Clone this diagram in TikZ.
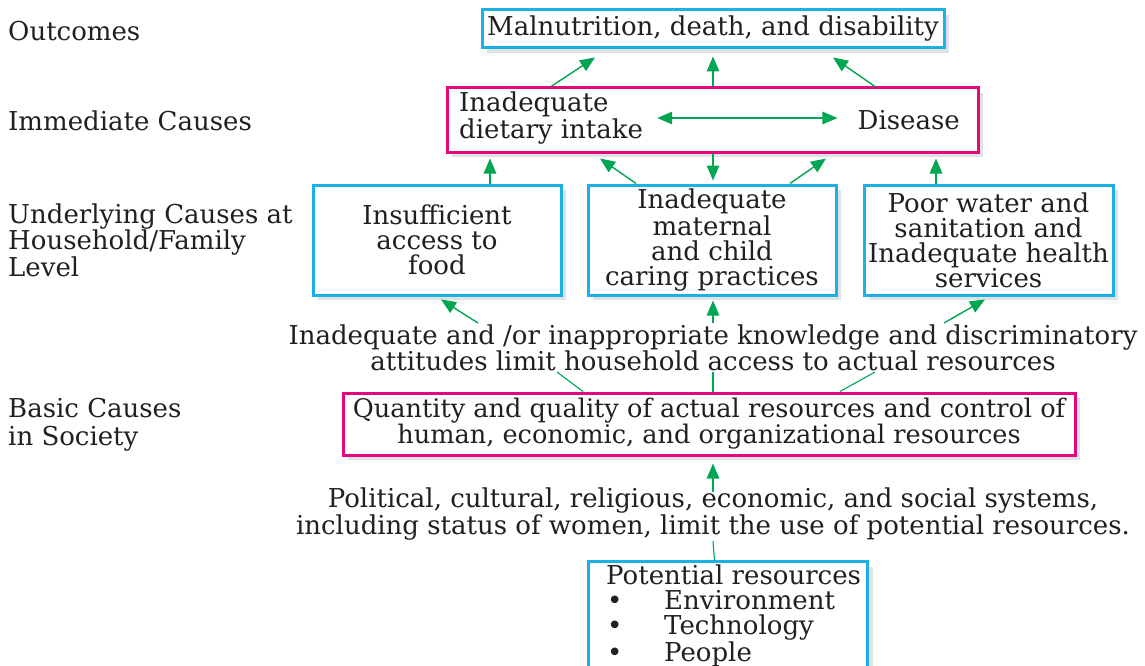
\documentclass[tikz,border=0pt]{standalone}
\usepackage{fontspec}
\setmainfont{DejaVu Serif}
\usetikzlibrary{shadows,arrows.meta}

\definecolor{boxblue}{HTML}{1CB0E6}
\definecolor{boxpink}{HTML}{E4087E}
\definecolor{arrowgreen}{HTML}{00A651}
\definecolor{inkgray}{HTML}{231F20}
\definecolor{shadegray}{HTML}{E1E2E4}

\newcommand\mainsize{\fontsize{26}{25}\selectfont}
\newcommand\widesize{\fontsize{26}{24}\selectfont}

\tikzset{
  bluebox/.style={draw=boxblue, line width=3pt, fill=white, inner sep=0pt, text=inkgray, align=center,
    drop shadow={shadow xshift=5pt, shadow yshift=-5pt, fill=shadegray, opacity=1}},
  pinkbox/.style={bluebox, draw=boxpink},
  sidelabel/.style={anchor=west, align=left, inner sep=0pt, text=inkgray, font=\mainsize},
  plaintext/.style={inner sep=0pt, text=inkgray, font=\mainsize},
  causetext/.style={align=center, inner sep=0pt, text=inkgray, font=\widesize},
  garrow/.style={draw=arrowgreen, line width=1.4pt, -{Triangle[length=15pt,width=12.5pt]}},
  gline/.style={draw=arrowgreen, line width=1.1pt}
}

\begin{document}
\begin{tikzpicture}[x=1pt,y=-1pt]
\useasboundingbox (0,0) rectangle (1145,666);

%labels down the left side
\node[sidelabel] (lbloutc) at (8,31) {Outcomes};
\node[sidelabel] (lblimmed) at (8,121) {Immediate Causes};
\node[sidelabel] (lblunder) at (8,240) {Underlying Causes at\\Household/Family\\Level};
\node[sidelabel, font=\fontsize{26}{28}\selectfont] (lblbasic) at (8,425) {Basic Causes\\in Society};

%outcomes and immediate causes
\node[bluebox, minimum width=462pt, minimum height=38pt, font=\mainsize] (outc) at (713,29) {Malnutrition, death, and disability};
\node[pinkbox, minimum width=531pt, minimum height=64pt] (immed) at (712.5,120) {};
\node[plaintext, anchor=west, align=left] (diet) at (459,118) {Inadequate\\dietary intake};
\node[plaintext, anchor=east] (disease) at (960,120) {Disease};
\draw[garrow, {Triangle[length=15pt,width=12.5pt]}-{Triangle[length=15pt,width=12.5pt]}, shorten <=14pt, shorten >=20pt] (diet.east) -- (diet.east -| disease.west);

%underlying causes
\node[bluebox, minimum width=248pt, minimum height=110pt, font=\mainsize] (food) at (437,240) {Insufficient\\access to\\food};
\node[bluebox, minimum width=248pt, minimum height=110pt, font=\mainsize] (care) at (712,240) {Inadequate\\maternal\\and child\\caring practices};
\node[bluebox, minimum width=249pt, minimum height=110pt, font=\mainsize] (water) at (988.5,240) {Poor water and\\sanitation and\\Inadequate health\\services};

%basic causes
\node[causetext] (know) at (713,348) {Inadequate and /or inappropriate knowledge and discriminatory\\attitudes limit household access to actual resources};
\node[pinkbox, minimum width=732pt, minimum height=62pt, font=\fontsize{25.6}{24.5}\selectfont] (basic) at (709,424) {Quantity and quality of actual resources and control of\\human, economic, and organizational resources};
\node[causetext] (polit) at (713,514) {Political, cultural, religious, economic, and social systems,\\including status of women, limit the use of potential resources.};

%potential resources, runs off the bottom
\node[bluebox, anchor=north west, minimum width=279pt, minimum height=130pt] (pot) at (587,560) {};
\node[plaintext, anchor=north west, align=left] (potlist) at ([shift={(19pt,-5pt)}]pot.north west) {Potential resources\\
  \makebox[58pt][l]{\hspace{1pt}\textbullet}Environment\\
  \makebox[58pt][l]{\hspace{1pt}\textbullet}Technology\\
  \makebox[58pt][l]{\hspace{1pt}\textbullet}People};

%arrows to outcomes
\draw[garrow] ([xshift=-161.5pt]immed.north) -- ([xshift=-118pt,yshift=-8pt]outc.south);
\draw[garrow] ([xshift=0.5pt]immed.north) -- ([yshift=-7pt]outc.south);
\draw[garrow] ([xshift=162.5pt]immed.north) -- ([xshift=120pt,yshift=-8pt]outc.south);

%arrows between immediate and underlying
\draw[garrow] ([xshift=53pt]food.north) -- ([xshift=-222.5pt,yshift=-5pt]immed.south);
\draw[garrow] ([xshift=-76pt]care.north) -- ([xshift=-112.5pt,yshift=-5pt]immed.south);
\draw[garrow] ([xshift=0.5pt]immed.south) -- ([xshift=1pt,yshift=3pt]care.north);
\draw[garrow] ([xshift=78pt]care.north) -- ([xshift=113.5pt,yshift=-5pt]immed.south);
\draw[garrow] ([xshift=-52.5pt]water.north) -- ([xshift=223.5pt,yshift=-5pt]immed.south);

%arrows from the knowledge text
\draw[garrow] ([xshift=-235pt,yshift=25pt]know.center) -- ([xshift=4pt,yshift=-3pt]food.south);
\draw[garrow] ([yshift=25pt]know.center) -- ([xshift=1pt,yshift=-4pt]care.south);
\draw[garrow] ([xshift=231pt,yshift=25pt]know.center) -- ([xshift=-3.5pt,yshift=-3pt]water.south);
\draw[gline] ([xshift=-126pt]basic.north) -- ([xshift=-156pt,yshift=-24pt]know.center);
\draw[gline] ([xshift=4pt]basic.north) -- ([yshift=-24pt]know.center);
\draw[gline] ([xshift=131pt]basic.north) -- ([xshift=162pt,yshift=-24pt]know.center);

%up from the potential resources
\draw[garrow] ([yshift=22pt]polit.center) -- ([xshift=4pt,yshift=-7pt]basic.south);
\draw[gline] ([yshift=-27pt]polit.center) -- ([xshift=-13.5pt]pot.north);

\end{tikzpicture}
\end{document}
